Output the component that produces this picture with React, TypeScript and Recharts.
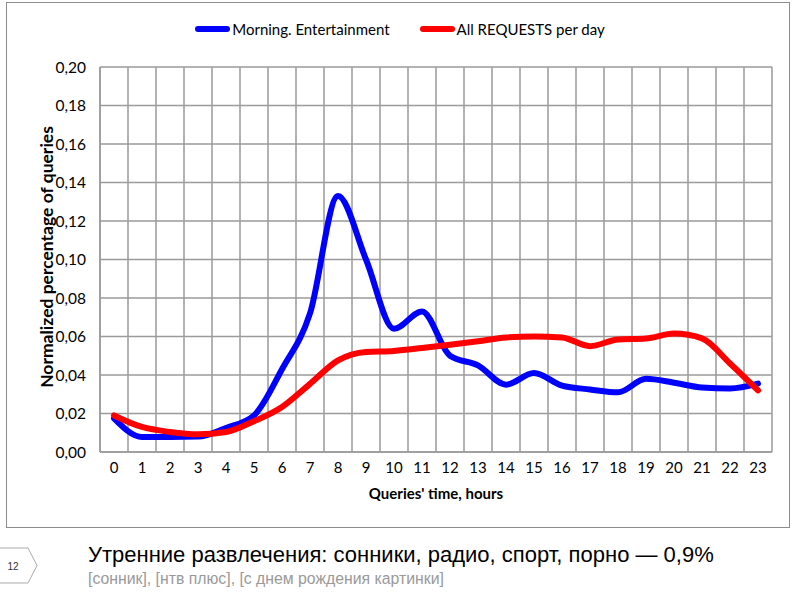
import React from 'react';
import { LineChart, Line, XAxis, YAxis, CartesianGrid, Legend, ReferenceLine, Label } from 'recharts';

const hours = [0, 1, 2, 3, 4, 5, 6, 7, 8, 9, 10, 11, 12, 13, 14, 15, 16, 17, 18, 19, 20, 21, 22, 23];
const morningEntertainment = [
  0.0175, 0.0078, 0.0078, 0.008, 0.0125, 0.019, 0.043, 0.072, 0.133, 0.1, 0.064, 0.073,
  0.05, 0.045, 0.035, 0.041, 0.0345, 0.0325, 0.031, 0.038, 0.036, 0.0335, 0.033, 0.0355,
];
const allRequests = [
  0.019, 0.013, 0.0104, 0.0092, 0.0104, 0.016, 0.0234, 0.0354, 0.0476, 0.052, 0.0525, 0.054,
  0.0557, 0.0575, 0.0595, 0.06, 0.0595, 0.055, 0.0585, 0.059, 0.0615, 0.059, 0.046, 0.032,
];
const yTicks = [0, 0.02, 0.04, 0.06, 0.08, 0.1, 0.12, 0.14, 0.16, 0.18, 0.2];
const seriesNames = ['Morning. Entertainment', 'All REQUESTS per day'];
const seriesColors = ['#0000ff', '#ff0000'];
const yAxisTitle = 'Normalized percentage of queries';
const xAxisTitle = "Queries' time, hours";
const slideTitle = 'Утренние развлечения: сонники, радио, спорт, порно — 0,9%';
const slideSubtitle = '[сонник], [нтв плюс], [с днем рождения картинки]';
const pageNumber = '12';

const data = hours.map((h, i) => ({ hour: h, morning: morningEntertainment[i], all: allRequests[i] }));
const boundaries = [...hours.map((h) => h - 0.5), hours[hours.length - 1] + 0.5];

const GRID = '#9a9a9a';
const FONT = 'Lato, "Open Sans", sans-serif';

const renderLegend = (props: any) => {
  const payload = [...(props.payload || [])].sort(
    (a: any, b: any) => seriesNames.indexOf(a.value) - seriesNames.indexOf(b.value)
  );
  return (
    <div style={{ display: 'flex', justifyContent: 'center', alignItems: 'center', gap: 30, fontFamily: FONT, fontSize: 15, color: '#000' }}>
      {payload.map((p: any) => (
        <div key={p.value} style={{ display: 'flex', alignItems: 'center' }}>
          <div style={{ width: 35, height: 6, borderRadius: 3, background: p.color, marginRight: 2 }} />
          <span>{p.value}</span>
        </div>
      ))}
    </div>
  );
};

const YTitle = () => {
  const x = 46;
  const y = 257;
  return (
    <text
      x={x}
      y={y}
      transform={`rotate(-90, ${x}, ${y})`}
      textAnchor="middle"
      dominantBaseline="central"
      fontFamily={FONT}
      fontWeight="bold"
      fontSize={17.5}
      fill="#000"
    >
      {yAxisTitle}
    </text>
  );
};

export default function App() {
  return (
    <div style={{ position: 'absolute', left: 0, top: 0, width: 800, height: 600, background: '#fff', overflow: 'hidden' }}>
      <div style={{ position: 'absolute', left: 6, top: 2, width: 782, height: 524, border: '1.5px solid #8c8c8c' }} />
      <div style={{ position: 'absolute', left: 0, top: 0 }}>
        <LineChart width={800} height={530} data={data} margin={{ top: 67, right: 28, left: 40, bottom: 48 }}>
          <CartesianGrid vertical={false} stroke={GRID} strokeWidth={1.5} />
          {boundaries.map((b) => (
            <ReferenceLine key={b} x={b} stroke={GRID} strokeWidth={1.5} />
          ))}
          <XAxis
            dataKey="hour"
            type="number"
            domain={[-0.5, 23.5]}
            ticks={hours}
            interval={0}
            tickLine={false}
            axisLine={{ stroke: GRID, strokeWidth: 1.5 }}
            tick={{ fontSize: 15, fill: '#000', fontFamily: FONT }}
            tickMargin={4}
            height={30}
          >
            <Label value={xAxisTitle} position="bottom" offset={6} style={{ fontFamily: FONT, fontWeight: 'bold', fontSize: 15, fill: '#000' }} />
          </XAxis>
          <YAxis
            domain={[0, 0.2]}
            ticks={yTicks}
            tickFormatter={(v: number) => v.toFixed(2).replace('.', ',')}
            width={60}
            tickLine={false}
            axisLine={{ stroke: GRID, strokeWidth: 1.5 }}
            tick={{ fontSize: 15.5, fill: '#000', fontFamily: FONT }}
            tickMargin={8}
          >
            <Label content={YTitle} />
          </YAxis>
          <Legend
            verticalAlign="middle"
            align="center"
            layout="horizontal"
            wrapperStyle={{ top: 20, left: 0, width: 800 }}
            content={renderLegend}
          />
          <Line type="monotone" dataKey="morning" name={seriesNames[0]} stroke={seriesColors[0]} strokeWidth={6} strokeLinecap="round" strokeLinejoin="round" dot={false} isAnimationActive={false} />
          <Line type="monotone" dataKey="all" name={seriesNames[1]} stroke={seriesColors[1]} strokeWidth={6} strokeLinecap="round" strokeLinejoin="round" dot={false} isAnimationActive={false} />
        </LineChart>
      </div>
      <svg style={{ position: 'absolute', left: 0, top: 546 }} width={42} height={40}>
        <polygon points="-1,2 28,2 37,19.5 28,37 -1,37" fill="#fff" stroke="#aaa" strokeWidth={1} />
        <text x={13} y={20} textAnchor="middle" dominantBaseline="central" fontFamily="Liberation Sans, Arial, sans-serif" fontSize={10} fill="#333">
          {pageNumber}
        </text>
      </svg>
      <div style={{ position: 'absolute', left: 88, top: 542, fontFamily: '"Liberation Sans", Arial, sans-serif', fontSize: 22, lineHeight: '26px', color: '#000', whiteSpace: 'nowrap' }}>
        {slideTitle}
      </div>
      <div style={{ position: 'absolute', left: 88, top: 570, fontFamily: '"Liberation Sans", Arial, sans-serif', fontSize: 15.8, lineHeight: '18px', color: '#9a9a9a', whiteSpace: 'nowrap' }}>
        {slideSubtitle}
      </div>
    </div>
  );
}
